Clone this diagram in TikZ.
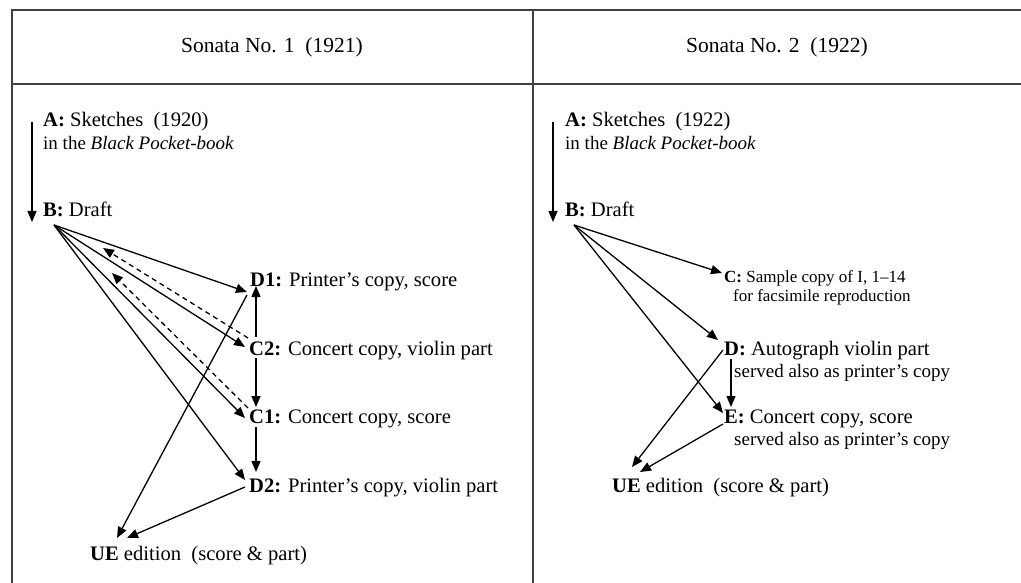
\documentclass[tikz,border=0pt]{standalone}
\usepackage{fontspec}
\setmainfont{Liberation Serif}
\usetikzlibrary{arrows.meta,calc}
\begin{document}
\begin{tikzpicture}[x=1pt,y=-1pt,
  lbl/.style={inner sep=0pt,anchor=base west,font=\fontsize{20.6}{24}\selectfont},
  sub/.style={inner sep=0pt,anchor=base west,font=\fontsize{19}{22}\selectfont},
  small/.style={inner sep=0pt,anchor=base west,font=\fontsize{17}{20}\selectfont},
  hdr/.style={inner sep=0pt,anchor=center,font=\fontsize{21.5}{26}\selectfont},
  arr/.style={line width=1.3pt,-{Triangle[length=11pt,width=9pt]}},
  darr/.style={arr,dash pattern=on 5pt off 4pt},
  rule/.style={line width=1.4pt,draw=black!75}]
\useasboundingbox (0,0) rectangle (1021,583);
% table
\draw[rule] (12,583) -- (12,10) -- (1021,10);
\draw[rule] (12,84) -- (1021,84);
\draw[rule] (533,10) -- (533,583);
\node[hdr] (hL) at (272,47) {Sonata No. 1\ \ (1921)};
\node[hdr] (hR) at (777,47) {Sonata No. 2\ \ (1922)};
% left panel
\node[lbl] (A1) at (43,127) {\textbf{A:} Sketches\ \ (1920)};
\node[sub] (A1s) at (43,150) {in the \textit{Black Pocket-book}};
\node[lbl] (B1) at (43,217) {\textbf{B:} Draft};
\node[lbl] (D1) at (250,286) {\textbf{D1:} Printer’s copy, score};
\node[lbl] (C2) at (249,355) {\textbf{C2:} Concert copy, violin part};
\node[lbl] (C1) at (249,423) {\textbf{C1:} Concert copy, score};
\node[lbl] (D2) at (249,492) {\textbf{D2:} Printer’s copy, violin part};
\node[lbl] (U1) at (90,560) {\textbf{UE} edition\ \ (score \& part)};
\draw[arr] ($(A1.base west)+(-11,-5)$) -- ($(B1.base west)+(-11,5)$);
\draw[arr] ($(B1.base west)+(11,8)$) -- ($(D1.base west)+(-3,6)$);
\draw[arr] ($(B1.base west)+(11,8)$) -- ($(C2.base west)+(-4,-8)$);
\draw[arr] ($(B1.base west)+(11,8)$) -- ($(C1.base west)+(-4,-5)$);
\draw[arr] ($(B1.base west)+(11,8)$) -- ($(D2.base west)+(-4,-12)$);
\draw[darr] ($(C2.base west)+(-1,-17)$) -- ($(B1.base west)+(60,31)$);
\draw[darr] ($(C1.base west)+(-1,-15)$) -- ($(B1.base west)+(69,56)$);
\draw[arr] ($(C2.base west)+(7,-18)$) -- ($(D1.base west)+(6,0)$);
\draw[arr] ($(C2.base west)+(7,3)$) -- ($(C1.base west)+(7,-16)$);
\draw[arr] ($(C1.base west)+(7,4)$) -- ($(D2.base west)+(7,-20)$);
\draw[arr] ($(D1.base west)+(-3,9)$) -- ($(U1.base west)+(27,-22)$);
\draw[arr] ($(D2.base west)+(-4,-5)$) -- ($(U1.base west)+(37,-22)$);
% right panel
\node[lbl] (A2) at (565,127) {\textbf{A:} Sketches\ \ (1922)};
\node[sub] (A2s) at (565,150) {in the \textit{Black Pocket-book}};
\node[lbl] (B2) at (565,217) {\textbf{B:} Draft};
\node[small] (Cr) at (724,282) {\textbf{C:} Sample copy of I, 1–14};
\node[small] (Crs) at (733,301) {for facsimile reproduction};
\node[lbl] (Dr) at (724,355) {\textbf{D:} Autograph violin part};
\node[sub] (Drs) at (734,377) {served also as printer’s copy};
\node[lbl] (Er) at (724,423) {\textbf{E:} Concert copy, score};
\node[sub] (Ers) at (734,445) {served also as printer’s copy};
\node[lbl] (U2) at (612,492) {\textbf{UE} edition\ \ (score \& part)};
\draw[arr] ($(A2.base west)+(-12,-5)$) -- ($(B2.base west)+(-12,5)$);
\draw[arr] ($(B2.base west)+(9,8)$) -- ($(Cr.base west)+(-2,-9)$);
\draw[arr] ($(B2.base west)+(9,8)$) -- ($(Dr.base west)+(-6,-15)$);
\draw[arr] ($(B2.base west)+(9,8)$) -- ($(Er.base west)+(-1,-10)$);
\draw[arr] ($(Dr.base west)+(7,4)$) -- ($(Er.base west)+(7,-16)$);
\draw[arr] ($(Dr.base west)+(-1,-5)$) -- ($(U2.base west)+(20,-25)$);
\draw[arr] ($(Er.base west)+(-1,1)$) -- ($(U2.base west)+(28,-20)$);
\end{tikzpicture}
\end{document}
